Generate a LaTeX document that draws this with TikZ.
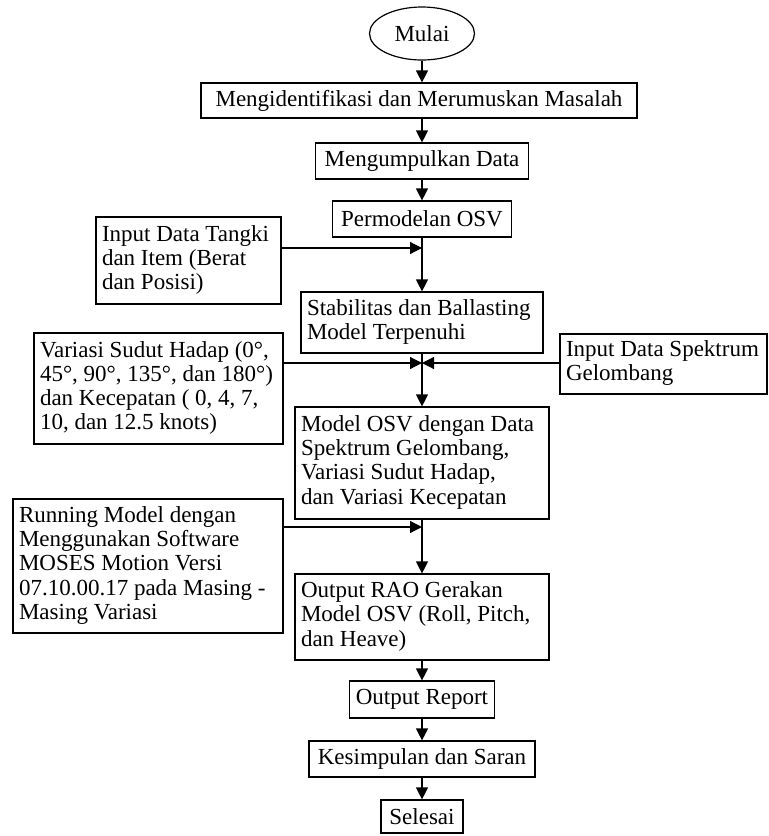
\documentclass[tikz,border=0pt]{standalone}
\usepackage{fontspec}
\setmainfont{Liberation Serif}
\usepackage{tikz}
\usetikzlibrary{arrows.meta,shapes.geometric}
\def\kiri#1#2{\makebox[#1][l]{\begin{tabular}{@{}l@{}}#2\end{tabular}}}
\tikzset{
	every node/.style={font=\fontsize{11.5}{12.1}\selectfont},
	blok/.style={draw, line width=0.6pt, rectangle, inner xsep=3pt, inner ysep=1pt, align=center},
	terminal/.style={draw, line width=0.6pt, ellipse, inner sep=0pt, minimum width=52.5pt, minimum height=26.5pt},
	alur/.style={line width=0.6pt, -{Triangle[length=6pt,width=6pt]}}
}

\begin{document}
\begin{tikzpicture}[x=0.5pt, y=-0.5pt]
			%%%%% START %%%%%
			
			\fill[white] (0, 0) rectangle (769, 836);
			\useasboundingbox (0, 0) rectangle (769, 836);
			
			\node[terminal] (mulai) at (422, 33.5) {Mulai};
			\node[blok, minimum width=218pt, minimum height=17.5pt] (identifikasi) at (419, 100.5) {Mengidentifikasi dan Merumuskan Masalah};
			\node[blok, minimum width=106.5pt, minimum height=18pt] (kumpul) at (422, 161) {Mengumpulkan Data};
			\node[blok, minimum width=89.5pt, minimum height=18pt] (permodelan) at (422, 219) {Permodelan OSV};
			
			\node[blok, minimum height=43.5pt] (tangki) at (188.5, 260.5) {\kiri{86.5pt}{Input Data Tangki\\dan Item (Berat\\dan Posisi)}};
			\node[blok, minimum height=30.5pt] (stabilitas) at (422, 322.5) {\kiri{115pt}{Stabilitas dan Ballasting\\Model Terpenuhi}};
			
			\node[blok, minimum height=55.5pt] (variasi) at (158.5, 388.5) {\kiri{118.5pt}{Variasi Sudut Hadap (0°,\\45°, 90°, 135°, dan 180°)\\dan Kecepatan ( 0, 4, 7,\\10, dan 12.5 knots)}};
			\node[blok, minimum height=30pt] (spektrum) at (663.5, 364) {\kiri{97.5pt}{Input Data Spektrum\\Gelombang}};
			
			\node[blok, minimum height=56pt] (modelosv) at (422, 463) {\kiri{121pt}{Model OSV dengan Data\\Spektrum Gelombang,\\Variasi Sudut Hadap,\\dan Variasi Kecepatan}};
			\node[blok, minimum height=67pt] (running) at (148, 566) {\kiri{129pt}{Running Model dengan\\Menggunakan Software\\MOSES Motion Versi\\07.10.00.17 pada Masing -\\Masing Variasi}};
			\node[blok, minimum height=43pt] (outputrao) at (422, 617) {\kiri{121pt}{Output RAO Gerakan\\Model OSV (Roll, Pitch,\\dan Heave)}};
			
			\node[blok, minimum width=71.5pt, minimum height=18.5pt] (report) at (422, 699.5) {Output Report};
			\node[blok, minimum width=113pt, minimum height=18pt] (kesimpulan) at (422, 759) {Kesimpulan dan Saran};
			\node[blok, minimum width=41pt, minimum height=16.5pt] (selesai) at (422, 816.5) {Selesai};
			
			% titik temu pada garis utama
			\coordinate (jtangki) at (422, 248);
			\coordinate (jvariasi) at (422, 363);
			\coordinate (jrunning) at (422, 527);
			
			\draw[alur] (mulai) -- (mulai |- identifikasi.north);
			\draw[alur] (identifikasi.south -| kumpul) -- (kumpul);
			\draw[alur] (kumpul) -- (permodelan);
			\draw[alur] (permodelan) -- (stabilitas);
			\draw[alur] (tangki.east |- jtangki) -- (jtangki);
			\draw[alur] (stabilitas) -- (modelosv);
			\draw[alur] (variasi.east |- jvariasi) -- (jvariasi);
			\draw[alur] (spektrum.west |- jvariasi) -- (jvariasi);
			\draw[alur] (modelosv) -- (outputrao);
			\draw[alur] (running.east |- jrunning) -- (jrunning);
			\draw[alur] (outputrao) -- (report);
			\draw[alur] (report) -- (kesimpulan);
			\draw[alur] (kesimpulan) -- (selesai);
			
			%%%%% END %%%%%
		\end{tikzpicture}
\end{document}
